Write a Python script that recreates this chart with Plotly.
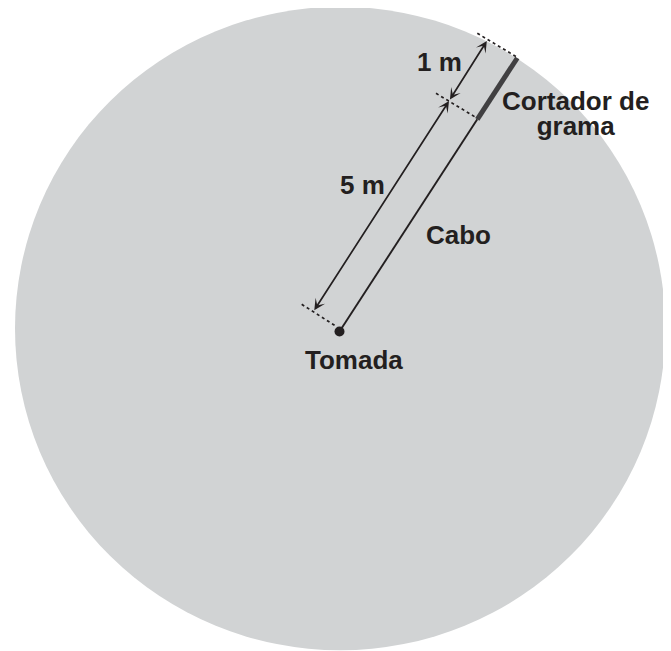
import plotly.graph_objects as go

# ---- diagram geometry (drawing units = pixels of the reference) ----
circle_center = [340.2, 328.5]
circle_radius = [325.2, 321.8]

tomada_xy = [339.5, 331.5]
cable_x = [339.5, 477.3]
cable_y = [331.5, 119.3]
mower_x = [477.3, 517.3]
mower_y = [119.3, 58.0]

# dimension arrows: [tail_x, tail_y, head_x, head_y]
dim_5m = [313.3, 311.7, 449.0, 101.0]
dim_1m = [449.0, 101.0, 486.8, 41.0]

# dotted extension lines: [x0, y0, x1, y1]
ext_lines = [
    [301.7, 304.3, 336.7, 326.7],
    [436.0, 93.3, 477.3, 118.3],
    [477.3, 33.3, 517.3, 57.3],
]

label_texts = ["1 m", "Cortador de<br>grama", "5 m", "Cabo", "Tomada"]
label_x = [439.0, 575.5, 362.0, 458.0, 354.0]
label_y = [61.5, 113.5, 185.0, 234.5, 360.0]

W, H = 671, 651
PAGE_MARGIN = 8  # default body margin of the html page
INK = "#231f20"
TEXT_PX = 26
LINE_BASE_PX = 19  # sets the tight line spacing of the two-line label
FONT = dict(family="Liberation Sans, Arial, sans-serif", size=LINE_BASE_PX, color=INK)

fig = go.Figure()

# circle
cx, cy = circle_center
rx, ry = circle_radius
fig.add_shape(type="circle", xref="x", yref="y",
              x0=cx - rx, x1=cx + rx, y0=cy - ry, y1=cy + ry,
              fillcolor="#d1d3d4", line=dict(width=0), layer="below")

# dotted extension lines
for x0, y0, x1, y1 in ext_lines:
    fig.add_shape(type="line", xref="x", yref="y", x0=x0, y0=y0, x1=x1, y1=y1,
                  line=dict(color=INK, width=1.7, dash="dot"))

# cable
fig.add_trace(go.Scatter(x=cable_x, y=cable_y, mode="lines",
                         line=dict(color=INK, width=1.9), hoverinfo="skip"))
# mower
fig.add_trace(go.Scatter(x=mower_x, y=mower_y, mode="lines",
                         line=dict(color="#414042", width=5), hoverinfo="skip"))
# outlet dot
fig.add_trace(go.Scatter(x=[tomada_xy[0]], y=[tomada_xy[1]], mode="markers",
                         marker=dict(color=INK, size=10), hoverinfo="skip"))

# dimension arrows (double headed)
for tx, ty, hx, hy in (dim_5m, dim_1m):
    fig.add_annotation(x=hx, y=hy, ax=tx, ay=ty, xref="x", yref="y",
                       axref="x", ayref="y", text="", showarrow=True,
                       arrowhead=3, startarrowhead=3, arrowside="end+start",
                       arrowsize=1.1, startarrowsize=1.1, arrowwidth=1.7,
                       arrowcolor=INK, standoff=0, startstandoff=0)

# labels
for t, x, y in zip(label_texts, label_x, label_y):
    lines = t.split("<br>")
    html = "<br>".join('<span style="font-size:%dpx"><b>%s</b></span>' % (TEXT_PX, s)
                       for s in lines)
    fig.add_annotation(x=x, y=y, xref="x", yref="y", text=html,
                       showarrow=False, font=FONT, xanchor="center",
                       yanchor="middle", align="center")

fig.update_layout(
    width=W - PAGE_MARGIN, height=H - PAGE_MARGIN, margin=dict(l=0, r=0, t=0, b=0),
    paper_bgcolor="white", plot_bgcolor="white", showlegend=False,
    xaxis=dict(range=[PAGE_MARGIN, W], visible=False, fixedrange=True),
    yaxis=dict(range=[H, PAGE_MARGIN], visible=False, fixedrange=True),
)

fig.write_html("out.html")
